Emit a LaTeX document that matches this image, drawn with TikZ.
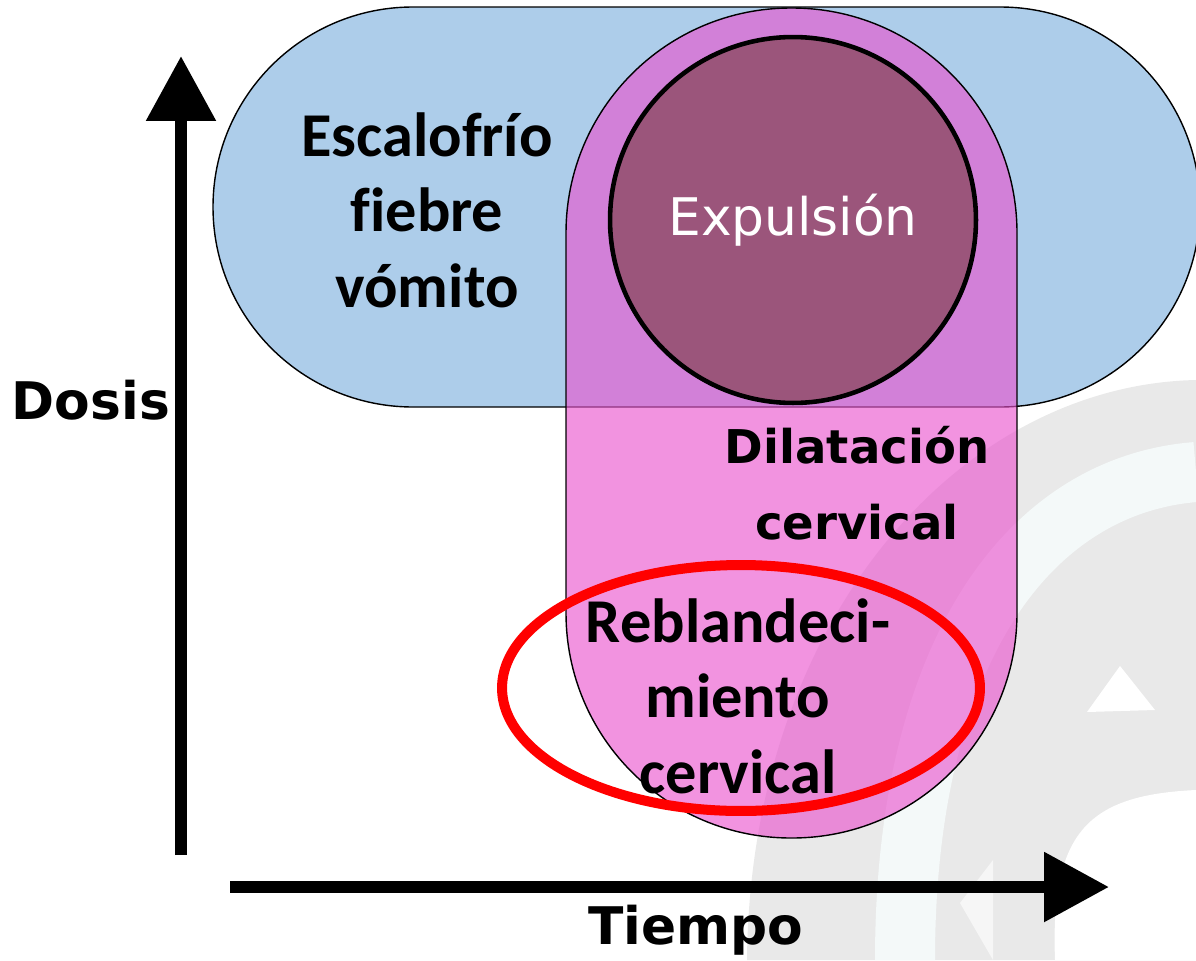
\documentclass[tikz,border=0pt]{standalone}
\usepackage{fontspec}
\setmainfont{Carlito}[Ligatures=CommonOff]
\newfontfamily\verdana{DejaVu Sans}
\usetikzlibrary{arrows.meta,positioning}
\definecolor{azul}{RGB}{173,205,234}
\definecolor{rosa}{RGB}{234,81,205}
\definecolor{morado}{RGB}{155,85,123}
\definecolor{marca}{RGB}{233,233,233}
\definecolor{marcaclara}{RGB}{244,249,249}
\tikzstyle{zona} = [draw=black, line width=0.8pt]
\tikzstyle{eje} = [line width=7pt, -{Triangle[length=1.3cm,width=1.34cm]}]
\tikzstyle{calibri} = [font=\bfseries\fontsize{35.5}{43}\selectfont, align=center]
\tikzstyle{verdana} = [font=\verdana\bfseries\fontsize{29.5}{36}\selectfont]

\begin{document}
\begin{tikzpicture}[x=0.02cm, y=-0.02cm]
\useasboundingbox (0,0) rectangle (1196,960);
% logo de fondo
\fill[marca] (747,960) .. controls (750,620) and (960,385) .. (1196,380) -- (1196,960) -- cycle;
\draw[marcaclara, line width=1.2cm] (905,960) .. controls (905,650) and (1030,485) .. (1196,472);
\fill[white] (1055,960) .. controls (1050,830) and (1090,795) .. (1196,790) -- (1196,960) -- cycle;
\fill[white] (1087,712) -- (1155,710) -- (1120,666) -- cycle;
\fill[white!60!marca] (960,903) -- (993,860) -- (993,960) -- cycle;
% zonas
\draw[zona, fill=azul, rounded corners=4cm] (213,7) rectangle (1200,407);
\draw[zona, fill=rosa, fill opacity=0.62, rounded corners=4.5cm] (566,8) rectangle (1017,838);
\node[circle, draw=black, line width=2.6pt, fill=morado, minimum size=7.32cm,
      text=white, font=\verdana\fontsize{29.5}{36}\selectfont] (expulsion) at (793,220) {Expulsión};
\draw[red, line width=5.7pt] (741,688) ellipse [x radius=4.78cm, y radius=2.46cm];
% textos
\node[calibri] (sintomas) at (427,210) {Escalofrío\\fiebre\\vómito};
\node[calibri] (reblandecimiento) at (738,696) {Reblandeci-\\miento\\cervical};
\node[font=\verdana\bfseries\fontsize{26.5}{43.5}\selectfont, align=center] (dilatacion) at (857,483) {Dilatación\\cervical};
\node[verdana] (dosis) at (91,400) {Dosis};
\node[verdana] (tiempo) at (696,930) {Tiempo};
% ejes
\coordinate (origen-y) at (181,855);
\coordinate (tope-y) at (181,56);
\coordinate (origen-x) at (230,887);
\coordinate (tope-x) at (1109,887);
\draw[eje] (origen-y) -- (tope-y);
\draw[eje] (origen-x) -- (tope-x);
\end{tikzpicture}
\end{document}
